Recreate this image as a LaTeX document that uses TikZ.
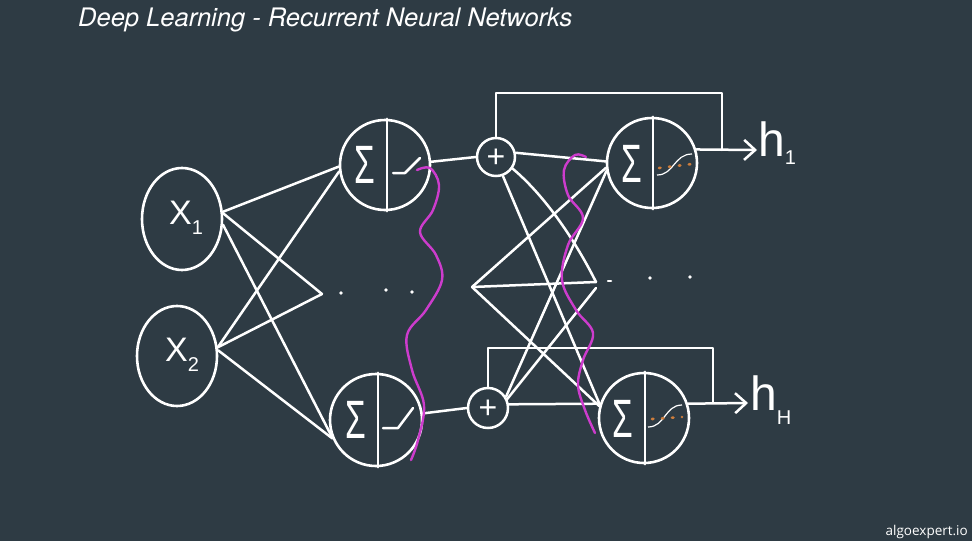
\documentclass[tikz,border=0pt]{standalone}
\usepackage{fontspec}
\setmainfont{Liberation Sans}
\newfontfamily\titlefont{TeX Gyre Heros}
\newfontfamily\logofont{Open Sans}
\usetikzlibrary{arrows.meta,shapes.geometric}
\definecolor{bg}{RGB}{46,59,68}
\definecolor{mag}{RGB}{205,60,205}
\definecolor{org}{RGB}{205,125,60}
\begin{document}
\begin{tikzpicture}[x=1pt,y=-1pt,
  wire/.style={draw=white, line width=2.5pt, line cap=round, line join=round},
  neuron/.style={circle, draw=white, line width=2.6pt, minimum size=90pt, inner sep=0pt},
  inp/.style={ellipse, draw=white, line width=2.6pt, minimum width=80pt, minimum height=102pt, inner sep=0pt},
  adder/.style={circle, draw=white, line width=2.5pt, minimum size=38pt, inner sep=0pt},
  wave/.style={draw=mag, line width=2.4pt, line cap=round},
  lbl/.style={text=white, inner sep=0pt},
  sig/.style={lbl, font=\fontsize{54}{54}\selectfont},
  plus/.style={lbl, font=\fontsize{32}{32}\selectfont},
  outarrow/.style={wire, -{Straight Barb[length=11pt,width=20pt,line width=2.5pt]}},
  dot/.style={circle, fill=white, inner sep=0pt, minimum size=3.6pt}]
\fill[bg] (0,0) rectangle (972,541);
\useasboundingbox (0,0) rectangle (972,541);

% texts
\node[lbl, anchor=base west, font=\titlefont\itshape\fontsize{25.5}{27}\selectfont] (title) at (78,26) {Deep Learning - Recurrent Neural Networks};
\node[lbl, anchor=base east, font=\logofont\fontsize{13.5}{14}\selectfont] (logo) at (968,535) {algoexpert.io};

% inputs
\node[inp] (x1) at (182,219) {};
\node[inp, minimum height=100pt] (x2) at (177,356) {};
\node[lbl, font=\fontsize{34}{34}\selectfont] (x1t) at (186,218) {X\raisebox{-0.28em}{\fontsize{20}{20}\selectfont 1}};
\node[lbl, font=\fontsize{34}{34}\selectfont] (x2t) at (182,355) {X\raisebox{-0.28em}{\fontsize{20}{20}\selectfont 2}};

% hidden layer
\node[neuron] (h1) at (385,165) {};
\node[neuron, minimum size=92pt] (h2) at (376,420) {};
\draw[wire] ([xshift=2pt]h1.north) -- ([xshift=2pt]h1.south);
\draw[wire] ([xshift=2pt]h2.north) -- ([xshift=2pt]h2.south);
\node[sig] (h1s) at (365,165) {\scalebox{0.62}[1]{Σ}};
\node[sig] (h2s) at (356,420) {\scalebox{0.62}[1]{Σ}};
\draw[wire] ([shift={(8,8)}]h1.center) -- ([shift={(20,8)}]h1.center) -- ([shift={(35,-7)}]h1.center);
\draw[wire] ([shift={(7,8)}]h2.center) -- ([shift={(22,8)}]h2.center) -- ([shift={(37,-12)}]h2.center);

\coordinate (d1) at (322,294);
\node[dot] (d1a) at (341,293) {};
\node[dot] (d1b) at (386,290) {};
\node[dot] (d1c) at (412,292) {};

% input -> hidden
\draw[wire] (x1.10) -- (h1.182);
\draw[wire] (x1.8) -- (d1);
\draw[wire] (x1.-8) -- (h2.200);
\draw[wire] (x2.12) -- (h1.188);
\draw[wire] (x2.12) -- (d1);
\draw[wire] (x2.8) -- (h2.203);

% adders
\node[adder] (p1) at (496,157) {};
\node[adder, minimum size=40pt] (p2) at (488,408) {};
\node[plus] (p1t) at ([yshift=-1pt]p1.center) {+};
\node[plus] (p2t) at ([yshift=-1pt]p2.center) {+};
\draw[wire] (h1.4) -- (p1.west);
\draw[wire] (h2.8) -- (p2.west);
\coordinate (d2) at (472,287);

% recurrent layer
\node[neuron] (r1) at (652,163) {};
\node[neuron] (r2) at (644,418) {};
\draw[wire] ([xshift=1pt]r1.north) -- ([xshift=1pt]r1.south);
\draw[wire] ([xshift=1pt]r2.north) -- ([xshift=1pt]r2.south);
\node[sig] (r1s) at (632,164) {\scalebox{0.62}[1]{Σ}};
\node[sig] (r2s) at (623,419) {\scalebox{0.62}[1]{Σ}};
\draw[white, line width=1.2pt] ([shift={(5,12)}]r1.center) .. controls ([shift={(22,12)}]r1.center) and ([shift={(22,-9)}]r1.center) .. ([shift={(40,-9)}]r1.center);
\draw[white, line width=1.2pt] ([shift={(4,9)}]r2.center) .. controls ([shift={(21,9)}]r2.center) and ([shift={(21,-13)}]r2.center) .. ([shift={(38,-13)}]r2.center);
\draw[org, line width=2.6pt, line cap=round, dash pattern=on 1.5pt off 8.5pt] ([shift={(7,5)}]r1.center) -- ([shift={(40,1)}]r1.center);
\draw[org, line width=2.6pt, line cap=round, dash pattern=on 1.5pt off 8.5pt] ([shift={(8,1)}]r2.center) -- ([shift={(38,-1)}]r2.center);

\coordinate (d3) at (596,282);
\draw[wire] (608,281) -- (611,281);
\node[dot] (d3b) at (650,278) {};
\node[dot] (d3c) at (690,277) {};

% adders -> recurrent
\draw[wire] (p1.12) -- (r1.178);
\draw[wire] (p1.-35) .. controls (550,200) and (580,250) .. (d3);
\draw[wire] (p1.-70) -- (r2.163);
\draw[wire] (d2) -- (r1.186);
\draw[wire] (d2) -- (d3);
\draw[wire] (d2) -- (r2.165);
\draw[wire] (p2.32) -- (r1.190);
\draw[wire] (p2.25) -- ([yshift=-6pt]d3);
\draw[wire] (p2.10) -- (r2.162);

% outputs and feedback
\coordinate (o1) at (757,150);
\coordinate (o2) at (748,403);
\coordinate (t1) at (722,93);
\coordinate (t2) at (713,348);
\draw[outarrow] (r1.17) -- (o1);
\draw[outarrow] (r2.18) -- (o2);
\draw[wire] (p1.north) |- (t1) -- (t1 |- o1);
\draw[wire] (p2.north) |- (t2) -- (t2 |- o2);
\node[lbl, anchor=base west, font=\fontsize{48}{48}\selectfont] (o1t) at (758,156) {h\raisebox{-0.18em}{\fontsize{20}{20}\selectfont 1}};
\node[lbl, anchor=base west, font=\fontsize{48}{48}\selectfont] (o2t) at (750,410) {h\raisebox{-0.3em}{\fontsize{20}{20}\selectfont H}};

% magenta waves
\draw[wave] plot[smooth, tension=0.6] coordinates {(417,170) (430,168) (439,185) (433,210) (420,232) (436,255) (442,280) (426,310) (407,335) (412,370) (424,405) (418,440) (411,460)};
\draw[wave] plot[smooth, tension=0.6] coordinates {(586,157) (575,155) (564,170) (568,195) (583,218) (568,245) (562,280) (576,310) (593,333) (583,360) (578,385) (585,410) (595,433)};
\end{tikzpicture}
\end{document}
